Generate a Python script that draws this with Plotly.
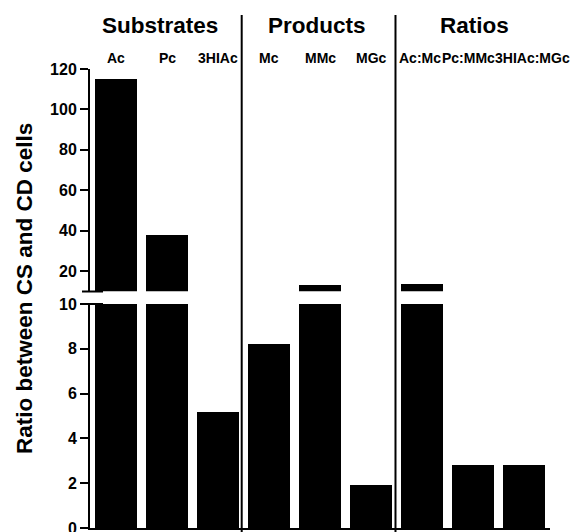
import plotly.graph_objects as go

categories = ["Ac", "Pc", "3HIAc", "Mc", "MMc", "MGc", "Ac:Mc", "Pc:MMc", "3HIAc:MGc"]
values = [115, 38, 5.2, 8.2, 13.2, 1.9, 13.5, 2.8, 2.8]
groups = ["Substrates", "Products", "Ratios"]
lower_ticks = [0, 2, 4, 6, 8, 10]
upper_ticks = [20, 40, 60, 80, 100, 120]

OFF = 8  # page body margin
W, H = 586 - OFF, 532 - OFF
L, R, T, B = 90 - OFF, 36, 69 - OFF, 4
PW, PH = W - L - R, H - T - B


def px(x):
    return (x - OFF - L) / PW


def py(y):
    return (H - B - (y - OFF)) / PH


FONT = "Arial, Liberation Sans, sans-serif"

fig = go.Figure()
fig.add_trace(go.Bar(x=categories, y=values, xaxis="x", yaxis="y",
                     marker=dict(color="black", line=dict(width=0)), width=0.82,
                     showlegend=False, hoverinfo="skip"))
fig.add_trace(go.Bar(x=categories, y=values, xaxis="x2", yaxis="y2",
                     marker=dict(color="black", line=dict(width=0)), width=0.82,
                     showlegend=False, hoverinfo="skip"))

tickfont = dict(family=FONT, size=16, color="black", weight="bold")
low_top = py(304)
up_bot = py(291.2)

fig.update_layout(
    width=W, height=H, margin=dict(l=L, r=R, t=T, b=B, autoexpand=False),
    paper_bgcolor="white", plot_bgcolor="white", bargap=0,
    xaxis=dict(domain=[0, 1], anchor="y", range=[-0.5, 8.5], showline=True,
               linecolor="black", linewidth=2, showticklabels=False, ticks="",
               showgrid=False, zeroline=False),
    xaxis2=dict(domain=[0, 1], anchor="y2", matches="x", range=[-0.5, 8.5], showline=False,
                showticklabels=False, ticks="", showgrid=False, zeroline=False),
    yaxis=dict(domain=[0, low_top], range=[0, 10], tickvals=lower_ticks, showline=True,
               linecolor="black", linewidth=2, ticks="outside", ticklen=8, tickwidth=2,
               tickcolor="black", tickfont=tickfont, showgrid=False, zeroline=False,
               ticklabeloverflow="allow"),
    yaxis2=dict(domain=[up_bot, 1], range=[10, 120], tickvals=upper_ticks, showline=True,
                linecolor="black", linewidth=2, ticks="outside", ticklen=8, tickwidth=2,
                tickcolor="black", tickfont=tickfont, showgrid=False, zeroline=False,
                ticklabeloverflow="allow"),
)

shapes = []
for xd in [2.468, 5.477]:
    shapes.append(dict(type="line", xref="x", yref="paper", x0=xd, x1=xd,
                       y0=py(532), y1=py(15), line=dict(color="black", width=2)))
for yy in [291.5, 304]:
    shapes.append(dict(type="line", xref="paper", yref="paper", x0=px(82), x1=px(103),
                       y0=py(yy), y1=py(yy), line=dict(color="black", width=2)))
fig.update_layout(shapes=shapes)

ann = []
for g, cx in zip(groups, [160, 316.6, 474]):
    ann.append(dict(text=g, xref="paper", yref="paper", x=px(cx), y=py(25),
                    xanchor="center", yanchor="middle", showarrow=False,
                    font=dict(family=FONT, size=22.5, color="black", weight="bold")))
label_x = [115.8, 167, 218, 268.7, 320, 371, 397, 439.5, 493]
label_anchor = ["center"] * 6 + ["left"] * 3
for c, cx, xa in zip(categories, label_x, label_anchor):
    ann.append(dict(text=c, xref="paper", yref="paper", x=px(cx), y=py(58.3),
                    xanchor=xa, yanchor="middle", showarrow=False,
                    font=dict(family=FONT, size=14, color="black", weight="bold")))
ann.append(dict(text="Ratio between CS and CD cells", xref="paper", yref="paper",
                x=px(24), y=py(289), xanchor="center", yanchor="middle", textangle=-90,
                showarrow=False, font=dict(family=FONT, size=22.5, color="black", weight="bold")))
fig.update_layout(annotations=ann)

fig.write_html("out.html")
